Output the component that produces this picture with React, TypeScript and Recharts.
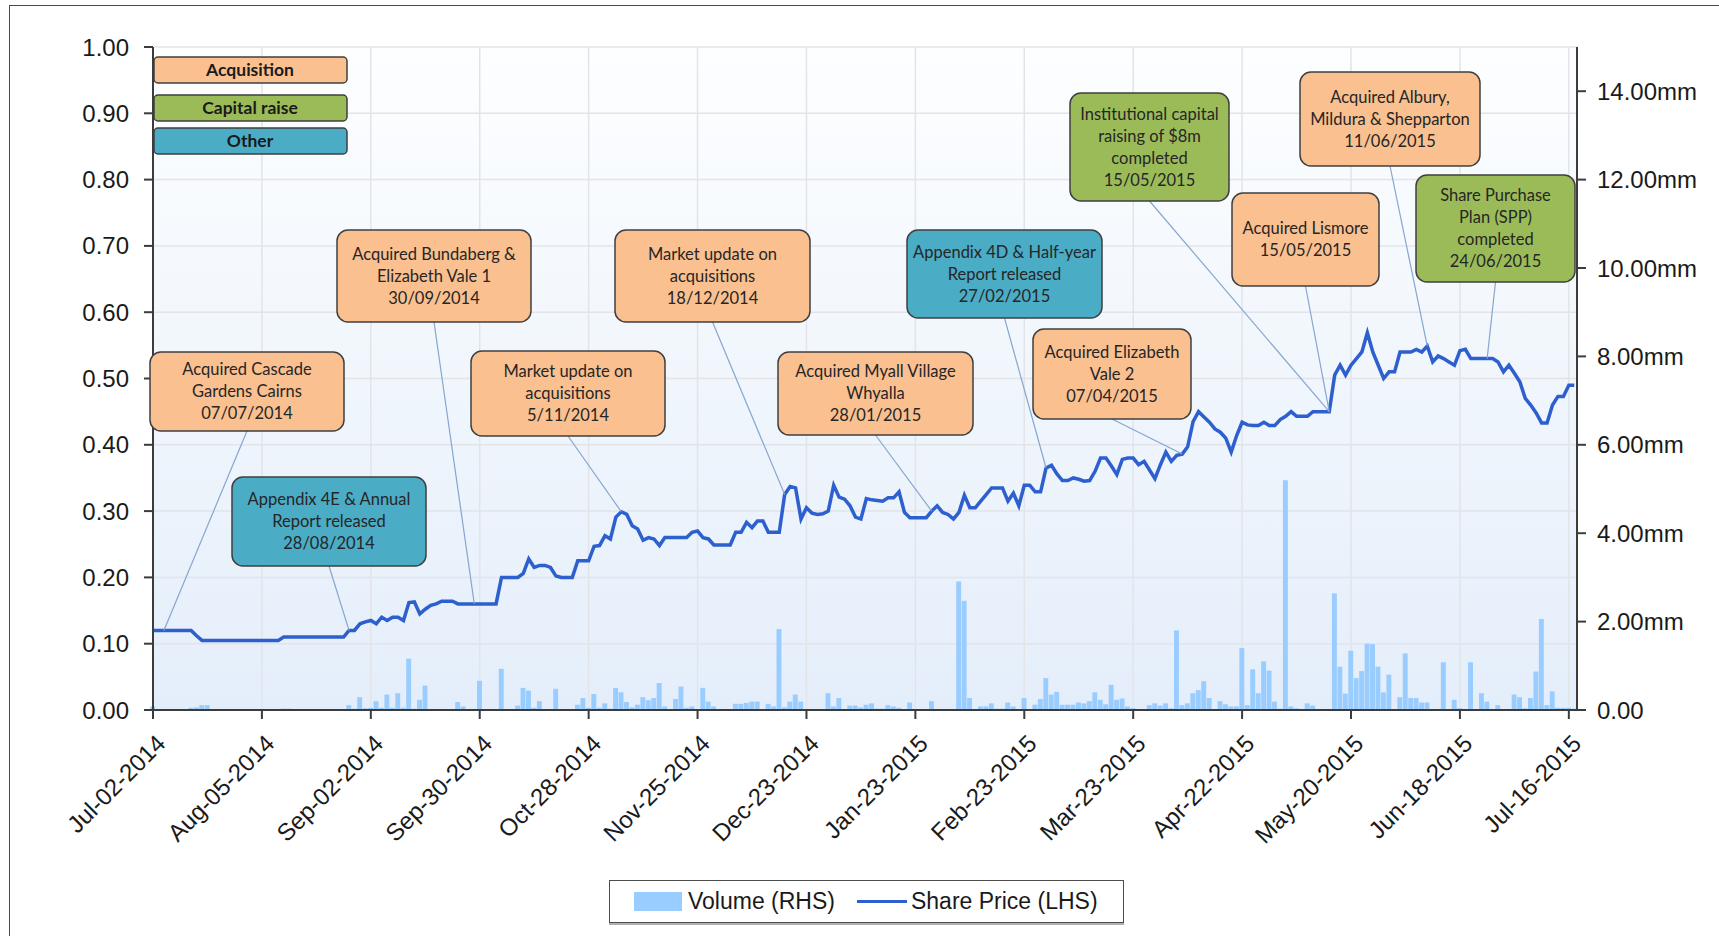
import React from "react";
import {
  ComposedChart,
  Bar,
  Line,
  XAxis,
  YAxis,
  CartesianGrid,
  ReferenceDot,
  Legend,
} from "recharts";

// x axis: one point per trading day, labelled every 20 days
const xTickIdx = [0, 20, 40, 60, 80, 100, 120, 140, 160, 180, 200, 220, 240, 260];
const xTickLabels = [
  "Jul-02-2014", "Aug-05-2014", "Sep-02-2014", "Sep-30-2014", "Oct-28-2014",
  "Nov-25-2014", "Dec-23-2014", "Jan-23-2015", "Feb-23-2015", "Mar-23-2015",
  "Apr-22-2015", "May-20-2015", "Jun-18-2015", "Jul-16-2015",
];
const priceTicks = [0, 0.1, 0.2, 0.3, 0.4, 0.5, 0.6, 0.7, 0.8, 0.9, 1];
const volumeTicks = [0, 2, 4, 6, 8, 10, 12, 14];

// share price ($)
const sharePrice = [
  0.12, 0.12, 0.12, 0.12, 0.12, 0.12, 0.12, 0.12, 0.112, 0.105,
  0.105, 0.105, 0.105, 0.105, 0.105, 0.105, 0.105, 0.105, 0.105, 0.105,
  0.105, 0.105, 0.105, 0.105, 0.11, 0.11, 0.11, 0.11, 0.11, 0.11,
  0.11, 0.11, 0.11, 0.11, 0.11, 0.11, 0.12, 0.12, 0.13, 0.133,
  0.135, 0.13, 0.14, 0.135, 0.14, 0.14, 0.135, 0.162, 0.163, 0.145,
  0.152, 0.158, 0.16, 0.164, 0.164, 0.164, 0.16, 0.16, 0.16, 0.16,
  0.16, 0.16, 0.16, 0.16, 0.2, 0.2, 0.2, 0.2, 0.206, 0.228,
  0.215, 0.218, 0.218, 0.215, 0.202, 0.2, 0.2, 0.2, 0.225, 0.225,
  0.225, 0.247, 0.248, 0.263, 0.258, 0.291, 0.299, 0.295, 0.278, 0.273,
  0.256, 0.26, 0.258, 0.248, 0.26, 0.26, 0.26, 0.26, 0.26, 0.268,
  0.27, 0.26, 0.258, 0.249, 0.249, 0.249, 0.249, 0.268, 0.268, 0.283,
  0.275, 0.285, 0.285, 0.268, 0.268, 0.268, 0.325, 0.337, 0.335, 0.288,
  0.305, 0.297, 0.295, 0.296, 0.3, 0.339, 0.321, 0.318, 0.308, 0.291,
  0.288, 0.319, 0.317, 0.316, 0.315, 0.32, 0.32, 0.329, 0.298, 0.29,
  0.29, 0.29, 0.29, 0.3, 0.308, 0.298, 0.295, 0.288, 0.298, 0.324,
  0.305, 0.305, 0.315, 0.325, 0.335, 0.335, 0.335, 0.315, 0.327, 0.308,
  0.339, 0.339, 0.329, 0.329, 0.365, 0.369, 0.356, 0.346, 0.346, 0.35,
  0.348, 0.345, 0.346, 0.36, 0.38, 0.38, 0.368, 0.355, 0.378, 0.38,
  0.38, 0.37, 0.375, 0.362, 0.349, 0.37, 0.389, 0.375, 0.384, 0.386,
  0.397, 0.435, 0.45, 0.442, 0.434, 0.424, 0.419, 0.41, 0.389, 0.414,
  0.434, 0.43, 0.429, 0.429, 0.434, 0.429, 0.429, 0.438, 0.443, 0.45,
  0.443, 0.443, 0.443, 0.45, 0.45, 0.45, 0.45, 0.505, 0.52, 0.505,
  0.52, 0.53, 0.54, 0.569, 0.54, 0.52, 0.5, 0.51, 0.51, 0.54,
  0.54, 0.54, 0.544, 0.54, 0.549, 0.525, 0.534, 0.53, 0.525, 0.52,
  0.542, 0.544, 0.53, 0.53, 0.53, 0.53, 0.53, 0.525, 0.51, 0.52,
  0.508, 0.495, 0.47, 0.46, 0.448, 0.433, 0.433, 0.46, 0.473, 0.473,
  0.49, 0.49,
];

// daily volume (millions)
const volume = [
  0.08, 0.02, 0, 0, 0, 0, 0, 0.05, 0.06, 0.11,
  0.11, 0, 0, 0, 0.01, 0, 0, 0, 0, 0,
  0, 0, 0, 0, 0.03, 0.03, 0.02, 0.01, 0.01, 0.01,
  0.02, 0, 0, 0, 0, 0.02, 0.11, 0.03, 0.29, 0.04,
  0.05, 0.2, 0.05, 0.35, 0.05, 0.38, 0.05, 1.16, 0.03, 0.23,
  0.55, 0.02, 0.02, 0.02, 0.02, 0.02, 0.18, 0.08, 0.01, 0.01,
  0.66, 0.01, 0.01, 0.01, 0.93, 0.02, 0.02, 0.1, 0.5, 0.44,
  0.05, 0.2, 0.02, 0.02, 0.48, 0.02, 0.02, 0.02, 0.12, 0.27,
  0.05, 0.36, 0.05, 0.15, 0.03, 0.5, 0.4, 0.18, 0.06, 0.12,
  0.29, 0.22, 0.27, 0.61, 0.08, 0.02, 0.25, 0.53, 0.05, 0.08,
  0.01, 0.5, 0.19, 0.08, 0.02, 0.02, 0.02, 0.14, 0.14, 0.16,
  0.19, 0.19, 0.02, 0.14, 0.08, 1.83, 0.06, 0.19, 0.35, 0.19,
  0.02, 0.01, 0.02, 0.02, 0.38, 0.08, 0.27, 0.02, 0.1, 0.1,
  0.06, 0.12, 0.15, 0.03, 0.03, 0.11, 0.08, 0.05, 0.02, 0.17,
  0.02, 0.02, 0.01, 0.2, 0.01, 0.01, 0.01, 0.01, 2.91, 2.47,
  0.27, 0.02, 0.08, 0.08, 0.15, 0.03, 0.03, 0.17, 0.08, 0.02,
  0.27, 0.02, 0.12, 0.25, 0.72, 0.35, 0.41, 0.12, 0.12, 0.12,
  0.17, 0.15, 0.2, 0.4, 0.23, 0.13, 0.57, 0.23, 0.26, 0.08,
  0.04, 0.02, 0.02, 0.11, 0.15, 0.1, 0.15, 0.04, 1.8, 0.11,
  0.15, 0.38, 0.45, 0.65, 0.27, 0.02, 0.2, 0.13, 0.08, 0.08,
  1.4, 0.11, 0.92, 0.38, 1.1, 0.89, 0.19, 0.03, 5.2, 0.08,
  0.04, 0.02, 0.15, 0.1, 0.01, 0.01, 0.01, 2.64, 0.98, 0.37,
  1.34, 0.72, 0.88, 1.5, 1.49, 0.98, 0.4, 0.8, 0.01, 0.29,
  1.28, 0.27, 0.27, 0.17, 0.17, 0.01, 0.01, 1.08, 0.01, 0.23,
  0.04, 0.01, 1.08, 0.01, 0.38, 0.19, 0.02, 0.11, 0.02, 0.02,
  0.35, 0.29, 0.04, 0.27, 0.87, 2.06, 0.11, 0.42, 0.05, 0.05,
  0.05, 0.03,
];

// announcements
const eventTypes = ["Acquisition", "Capital raise", "Other"];
const eventText = [
  ["Acquired Cascade", "Gardens Cairns", "07/07/2014"],
  ["Appendix 4E & Annual", "Report released", "28/08/2014"],
  ["Acquired Bundaberg &", "Elizabeth Vale 1", "30/09/2014"],
  ["Market update on", "acquisitions", "5/11/2014"],
  ["Market update on", "acquisitions", "18/12/2014"],
  ["Acquired Myall Village", "Whyalla", "28/01/2015"],
  ["Appendix 4D & Half-year", "Report released", "27/02/2015"],
  ["Acquired Elizabeth", "Vale 2", "07/04/2015"],
  ["Institutional capital", "raising of $8m", "completed", "15/05/2015"],
  ["Acquired Lismore", "15/05/2015"],
  ["Acquired Albury,", "Mildura & Shepparton", "11/06/2015"],
  ["Share Purchase", "Plan (SPP)", "completed", "24/06/2015"],
];
const eventKind = [0, 2, 0, 0, 0, 0, 2, 0, 1, 0, 0, 1];
const eventIdx = [2, 36, 59, 86, 116, 143, 164, 189, 216, 216, 234, 245];

// callout placement, px: x, y, w, h
const calloutBoxes = [
  [150, 352, 194, 79],
  [232, 477, 194, 89],
  [337, 230, 194, 92],
  [471, 351, 194, 85],
  [615, 230, 195, 92],
  [778, 352, 195, 83],
  [907, 230, 195, 88],
  [1033, 329, 158, 90],
  [1070, 93, 159, 108],
  [1232, 193, 147, 93],
  [1300, 72, 180, 94],
  [1416, 175, 159, 107],
];

const typeColors = ["#FAC090", "#9BBB59", "#4BACC6"];
const lineColor = "#2d5fcf";
const barColor = "#99CCFF";
const axisColor = "#3c3c3c";
const axisFont = "'Liberation Sans', Arial, sans-serif";
const noteFont = "Lato, 'Open Sans', sans-serif";

const rows = sharePrice.map((p, i) => ({ i, price: p, volume: volume[i] }));

const XTick = (props: any) => {
  const { x, y, payload } = props;
  const label = xTickLabels[xTickIdx.indexOf(payload.value)];
  return (
    <g transform={`translate(${x + 8},${y})`}>
      <text
        transform="rotate(-45)"
        textAnchor="end"
        dy="0.35em"
        fontSize={24}
        fontFamily={axisFont}
        fill="#1a1a1a"
      >
        {label}
      </text>
    </g>
  );
};

const Callout = (props: any) => {
  const { cx, cy, n } = props;
  const [bx, by, bw, bh] = calloutBoxes[n];
  const lines = eventText[n];
  const midY = by + bh / 2;
  return (
    <g>
      <line
        x1={bx + bw / 2}
        y1={by + bh}
        x2={cx}
        y2={cy}
        stroke="#86a6cf"
        strokeWidth={1.2}
      />
      <rect
        x={bx}
        y={by}
        width={bw}
        height={bh}
        rx={11}
        ry={11}
        fill={typeColors[eventKind[n]]}
        stroke="#3f3f3f"
        strokeWidth={1.5}
      />
      <text textAnchor="middle" fontFamily={noteFont} fontSize={16.5} fill="#262626">
        {lines.map((t, k) => (
          <tspan
            key={k}
            x={bx + bw / 2}
            y={midY + (k - (lines.length - 1) / 2) * 22}
            dy="0.35em"
          >
            {t}
          </tspan>
        ))}
      </text>
    </g>
  );
};

// colour key in the top-left corner
const TypeKey = () => (
  <g>
    {eventTypes.map((t, k) => {
      const y = [57, 95, 128][k];
      return (
        <g key={t}>
          <rect
            x={154}
            y={y}
            width={193}
            height={26}
            rx={4}
            ry={4}
            fill={typeColors[k]}
            stroke="#3f3f3f"
            strokeWidth={1.5}
          />
          <text
            x={250}
            y={y + 13}
            dy="0.35em"
            textAnchor="middle"
            fontFamily={noteFont}
            fontWeight="bold"
            fontSize={17.5}
            fill="#1a1a1a"
          >
            {t}
          </text>
        </g>
      );
    })}
  </g>
);

const renderLegend = (props: any) => {
  const { payload = [] } = props;
  // bars first, then the line
  const items = [...payload].sort(
    (a: any, b: any) => (a.type === "line" ? 1 : 0) - (b.type === "line" ? 1 : 0)
  );
  return (
    <div
      style={{
        boxSizing: "border-box",
        width: 515,
        height: 43,
        border: "1px solid #4d4d4d",
        boxShadow: "0 2px 0 #b0b0b0",
        background: "#fff",
        display: "flex",
        alignItems: "center",
        paddingLeft: 24,
        fontFamily: axisFont,
        fontSize: 23,
        color: "#1a1a1a",
      }}
    >
      {items.map((e: any, k: number) => (
        <span key={k} style={{ display: "flex", alignItems: "center", marginRight: 22 }}>
          {e.type === "line" ? (
            <span style={{ display: "inline-block", width: 50, height: 3, background: e.color, marginRight: 4 }} />
          ) : (
            <span style={{ display: "inline-block", width: 48, height: 19, background: e.color, marginRight: 6 }} />
          )}
          {e.value}
        </span>
      ))}
    </div>
  );
};

export default function App() {
  return (
    <div
      style={{
        position: "absolute",
        left: 0,
        top: 0,
        width: 1719,
        height: 936,
        background: "#fff",
        overflow: "hidden",
      }}
    >
      <div
        style={{
          position: "absolute",
          left: 9,
          top: 5,
          right: -4,
          bottom: -4,
          borderLeft: "1.5px solid #4a4a4a",
          borderTop: "1.5px solid #4a4a4a",
        }}
      />
      <ComposedChart
        width={1719}
        height={936}
        data={rows}
        margin={{ top: 47, right: 22, bottom: 116, left: 73 }}
      >
        <defs>
          <linearGradient id="plotBg" x1="0" y1="0" x2="0" y2="1">
            <stop offset="0%" stopColor="#fdfeff" />
            <stop offset="100%" stopColor="#e4eefa" />
          </linearGradient>
        </defs>
        <CartesianGrid
          yAxisId="left"
          fill="url(#plotBg)"
          fillOpacity={1}
          stroke="#e2e4e8"
          strokeWidth={1.5}
        />
        <XAxis
          dataKey="i"
          type="number"
          domain={[0, 261.5]}
          ticks={xTickIdx}
          interval={0}
          height={110}
          tickSize={9}
          tickMargin={20}
          tick={<XTick />}
          tickLine={{ stroke: axisColor, strokeWidth: 2 }}
          axisLine={{ stroke: axisColor, strokeWidth: 2 }}
        />
        <YAxis
          yAxisId="left"
          domain={[0, 1]}
          ticks={priceTicks}
          interval={0}
          width={80}
          tickSize={9}
          tickMargin={15}
          tickFormatter={(v: number) => v.toFixed(2)}
          tick={{ fontSize: 24, fill: "#1a1a1a", fontFamily: axisFont }}
          tickLine={{ stroke: axisColor, strokeWidth: 2 }}
          axisLine={{ stroke: axisColor, strokeWidth: 2 }}
        />
        <YAxis
          yAxisId="right"
          orientation="right"
          domain={[0, 15]}
          ticks={volumeTicks}
          interval={0}
          width={120}
          tickSize={9}
          tickMargin={11}
          tickFormatter={(v: number) => (v === 0 ? "0.00" : `${v.toFixed(2)}mm`)}
          tick={{ fontSize: 24, fill: "#1a1a1a", fontFamily: axisFont, textAnchor: "start" }}
          tickLine={{ stroke: axisColor, strokeWidth: 2 }}
          axisLine={{ stroke: axisColor, strokeWidth: 2 }}
        />
        <Bar
          yAxisId="right"
          dataKey="volume"
          name="Volume (RHS)"
          fill={barColor}
          barSize={5.5}
          isAnimationActive={false}
        />
        <Line
          yAxisId="left"
          dataKey="price"
          name="Share Price (LHS)"
          type="linear"
          stroke={lineColor}
          strokeWidth={3.5}
          dot={false}
          activeDot={false}
          isAnimationActive={false}
        />
        {eventIdx.map((idx, n) => (
          <ReferenceDot
            key={`ev-${n}`}
            yAxisId="left"
            x={idx}
            y={sharePrice[idx]}
            r={0}
            shape={(p: any) => <Callout {...p} n={n} />}
          />
        ))}
        <TypeKey />
        <Legend
          layout="vertical"
          verticalAlign="middle"
          align="center"
          wrapperStyle={{ left: 609, top: 880, width: 515, height: 43 }}
          content={renderLegend}
        />
      </ComposedChart>
    </div>
  );
}
